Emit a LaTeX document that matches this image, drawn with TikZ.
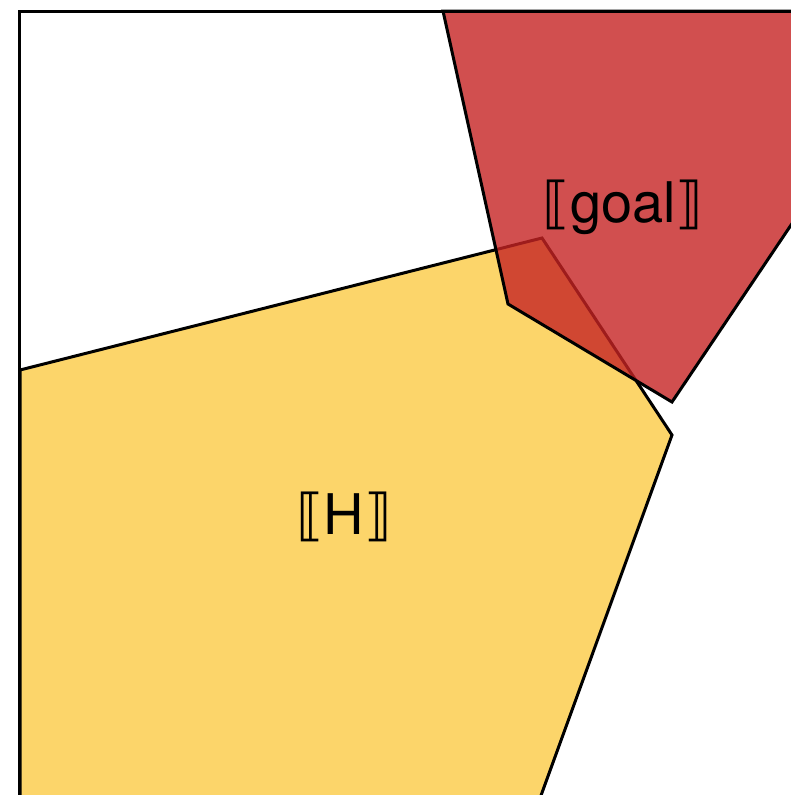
\documentclass[tikz,border=0pt]{standalone}
\usepackage{fontspec}
\setmainfont{TeX Gyre Heros}
\newfontfamily\dvfont{DejaVu Sans}
\definecolor{hyellow}{RGB}{252,213,106}
\definecolor{gred}{RGB}{198,36,36}
\tikzset{
  region/.style={draw=black, line width=3pt, line join=miter},
  lbl/.style={font=\fontsize{56}{62}\selectfont, inner sep=0pt}
}
\begin{document}
\begin{tikzpicture}[x=1pt, y=-1pt]
\useasboundingbox (0,0) rectangle (791,795);
\clip (0,0) rectangle (791,795);
\fill[white] (0,0) rectangle (791,795);
% H region
\path[region, fill=hyellow] (20,370) -- (542,238) -- (672,435) -- (535,812) -- (20,812) -- cycle;
% goal region
\path[region, fill=gred, fill opacity=0.8] (443,11) -- (900,11) -- (900,63) -- (672,402) -- (508,304) -- cycle;
% frame
\draw[line width=3pt] (19.5,900) -- (19.5,11) -- (900,11);
\node[lbl] (goal) at (623,207) {{\dvfont ⟦}goal{\dvfont ⟧}};
\node[lbl] (H) at (344,517) {{\dvfont ⟦}H{\dvfont ⟧}};
\end{tikzpicture}
\end{document}
